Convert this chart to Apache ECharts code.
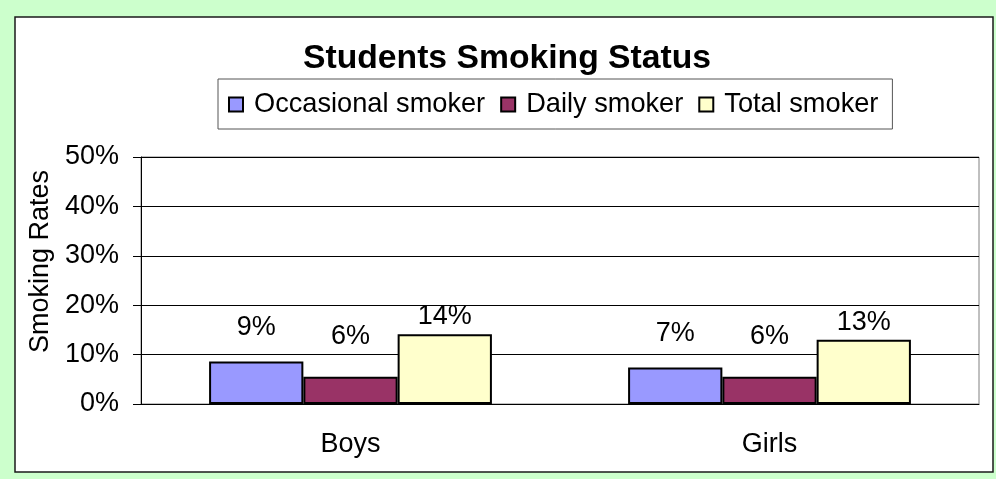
<!DOCTYPE html>
<html>
<head>
<meta charset="utf-8">
<style>
  html, body { margin: 0; padding: 0; background: #ccffcc; }
  #chart { width: 996px; height: 479px; }
</style>
<script src="https://cdn.jsdelivr.net/npm/echarts@6/dist/echarts.min.js"></script>
</head>
<body>
<div id="chart"></div>
<script>
// groups and values (percent)
var groups = ['Boys', 'Girls'];
var seriesNames = ['Occasional smoker', 'Daily smoker', 'Total smoker'];
var occasional = [8.6, 7.4];
var daily = [5.5, 5.5];
var total = [14.1, 13.0];

var font = 'Arial, "Liberation Sans", sans-serif';

var chart = echarts.init(document.getElementById('chart'));

function barLabel(dist) {
	return {
		show: true,
		position: 'top',
		distance: dist,
		color: '#000',
		fontFamily: font,
		fontSize: 27,
		formatter: function(p) { return Math.round(p.value) + '%'; }
	};
}

var option = {
	animation: false,
	backgroundColor: '#ccffcc',
	graphic: [{
		type: 'rect',
		z: -10,
		shape: { x: 15, y: 17, width: 978, height: 455 },
		style: { fill: '#fff', stroke: '#1a1a1a', lineWidth: 1.5 }
	}],
	title: {
		text: 'Students Smoking Status',
		left: 298,
		top: 37,
		textStyle: { fontFamily: font, fontWeight: 'bold', fontSize: 33.7, color: '#000' }
	},
	legend: {
		data: seriesNames,
		left: 218,
		top: 79,
		padding: [12, 14, 11, 10],
		itemGap: 15,
		itemWidth: 14,
		itemHeight: 14,
		icon: 'rect',
		borderColor: '#555',
		borderWidth: 1,
		textStyle: { fontFamily: font, fontSize: 27.2, color: '#000', padding: [0, 0, 0, 6] }
	},
	grid: {
		left: 141,
		right: 17,
		top: 157,
		bottom: 75,
		show: true,
		borderColor: '#808080',
		borderWidth: 1
	},
	xAxis: {
		type: 'category',
		data: groups,
		axisLine: { lineStyle: { color: '#000' } },
		axisTick: { length: 7, lineStyle: { color: '#000' } },
		axisLabel: { margin: 27, color: '#000', fontFamily: font, fontSize: 27 }
	},
	yAxis: {
		type: 'value',
		min: 0,
		max: 50,
		interval: 10,
		name: 'Smoking Rates',
		nameLocation: 'middle',
		nameGap: 86,
		nameTextStyle: { color: '#000', fontFamily: font, fontSize: 27, padding: [0, 0, 0, 38] },
		axisLine: { show: true, lineStyle: { color: '#000' } },
		axisTick: { show: true, length: 8, lineStyle: { color: '#000' } },
		axisLabel: { margin: 22, color: '#000', fontFamily: font, fontSize: 27, formatter: '{value}%' },
		splitLine: { lineStyle: { color: '#000', width: 1 } }
	},
	series: [
		{
			name: seriesNames[0],
			type: 'bar',
			data: occasional,
			barGap: '0%',
			barCategoryGap: '32.5%',
			itemStyle: { color: '#9999ff', borderColor: '#000', borderWidth: 2 },
			label: barLabel(20)
		},
		{
			name: seriesNames[1],
			type: 'bar',
			data: daily,
			itemStyle: { color: '#993366', borderColor: '#000', borderWidth: 2 },
			label: barLabel(27)
		},
		{
			name: seriesNames[2],
			type: 'bar',
			data: total,
			itemStyle: { color: '#ffffcc', borderColor: '#000', borderWidth: 2 },
			label: barLabel(4)
		}
	]
};

chart.setOption(option);
</script>
</body>
</html>
